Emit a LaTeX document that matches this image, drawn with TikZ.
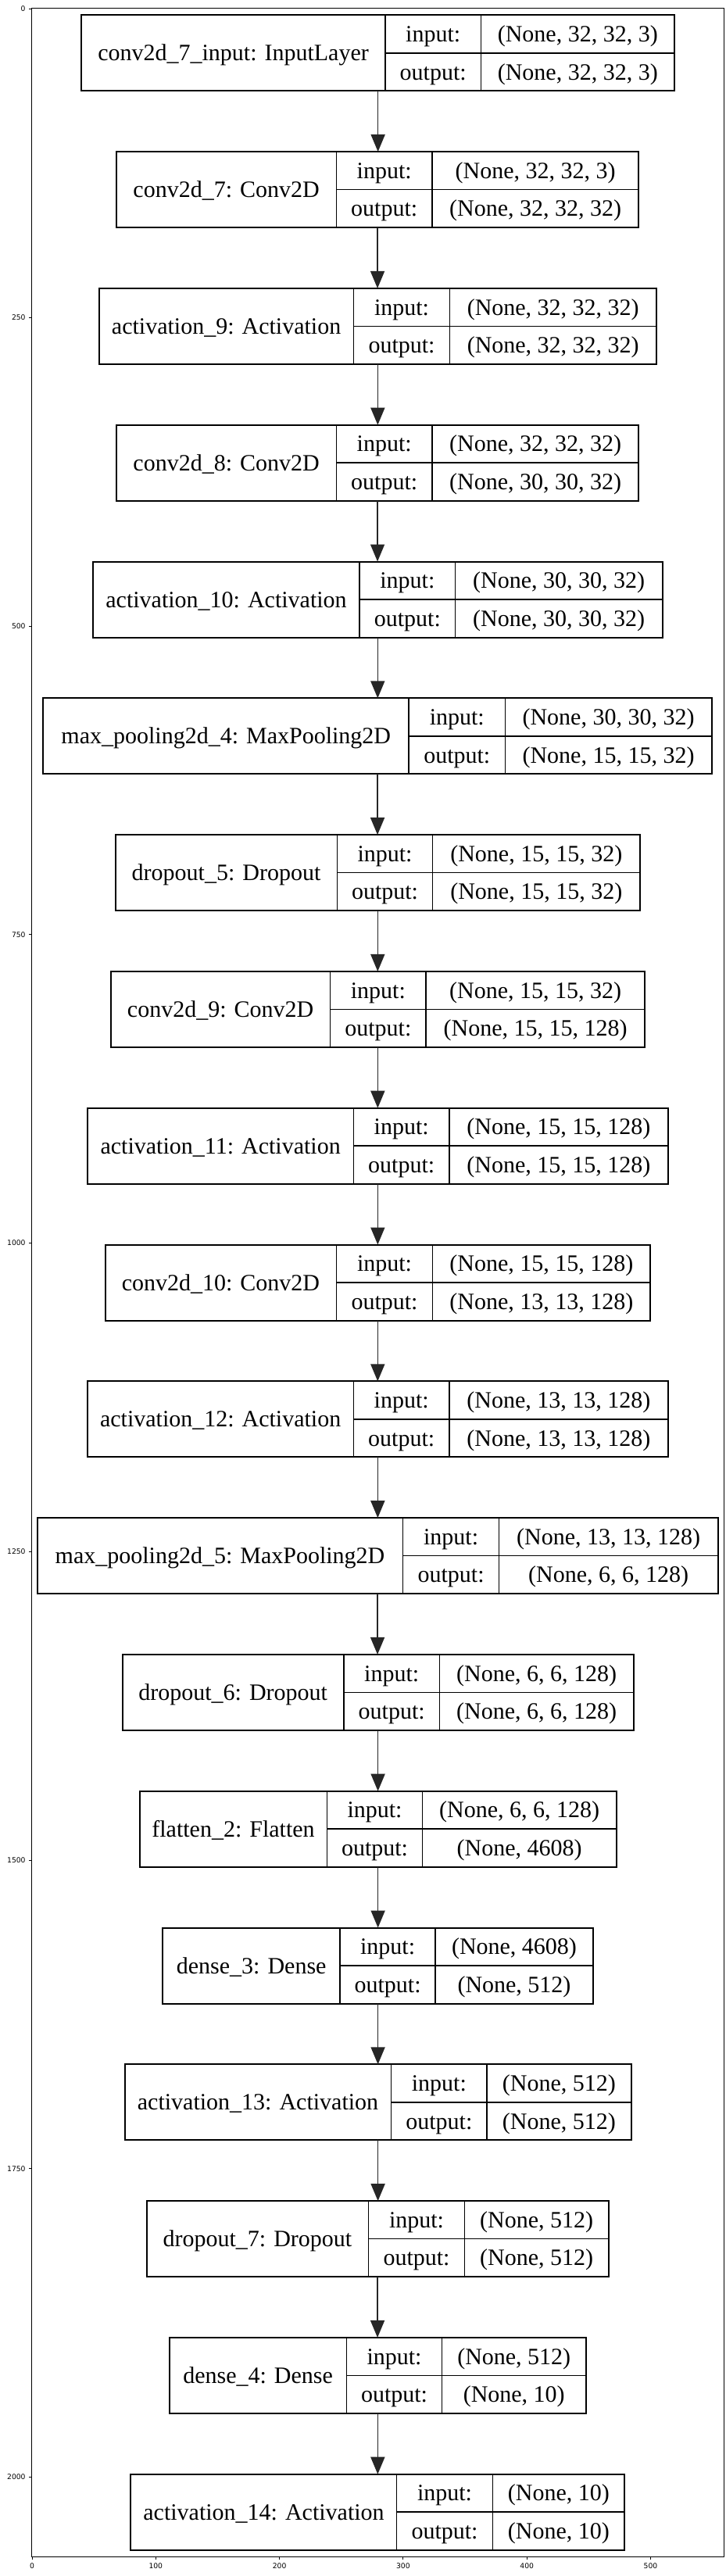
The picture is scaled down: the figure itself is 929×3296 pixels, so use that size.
\documentclass[tikz,border=0pt]{standalone}
\usepackage{fontspec}
\setmainfont{Liberation Serif}
\newfontfamily\tickfont{DejaVu Sans}
\usetikzlibrary{arrows.meta,fit}
\tikzset{
  layerbox/.style={draw=black, line width=1pt, inner sep=0pt, outer sep=0pt},
  divider/.style={draw=black, line width=0.75pt},
  lbl/.style={font=\fontsize{15}{18}\selectfont, inner sep=0pt, text height=10pt, text depth=0pt},
  conn/.style={draw=black!85, line width=0.8pt, -{Triangle[length=11pt,width=9pt]}},
  axisline/.style={draw=black, line width=0.45pt},
  ticklbl/.style={font=\tickfont\fontsize{4.6}{5}\selectfont, inner sep=0pt},
}
% #1 id, #2 index, #3 left, #4 div1, #5 div2, #6 right, #7 name, #8 input, #9 output
\newcommand\kerasLayer[9]{%
  \pgfmathsetmacro\ytop{19.3+174.8*(#2-1)}%
  \pgfmathsetmacro\ybot{\ytop+97}%
  \pgfmathsetmacro\ymid{\ytop+48.5}%
  \pgfmathsetmacro\yin{\ytop+24.25}%
  \pgfmathsetmacro\yout{\ytop+72.75}%
  \node[layerbox, fit={(#3,\ytop) (#6,\ybot)}] (#1) {};
  \draw[divider] (#4,\ytop) -- (#4,\ybot);
  \draw[divider] (#5,\ytop) -- (#5,\ybot);
  \draw[divider] (#4,\ymid) -- (#6,\ymid);
  \node[lbl] (#1-name) at ({(#3+#4)/2},\ymid) {#7};
  \node[lbl] (#1-ilab) at ({(#4+#5)/2},\yin) {input:};
  \node[lbl] (#1-olab) at ({(#4+#5)/2},\yout) {output:};
  \node[lbl] (#1-ival) at ({(#5+#6)/2},\yin) {#8};
  \node[lbl] (#1-oval) at ({(#5+#6)/2},\yout) {#9};
}
\begin{document}
\begin{tikzpicture}[x=0.5pt,y=-0.5pt]
\useasboundingbox (0,0) rectangle (929,3296);
\fill[white] (0,0) rectangle (929,3296);
% axes frame
\draw[axisline] (40.5,10.7) rectangle (926,3271.7);
\foreach \v in {0,250,...,2000}{
  \draw[axisline] (37,{11.5+1.579*\v}) -- (40.5,{11.5+1.579*\v});
  \node[ticklbl, anchor=east] (yt\v) at (33,{11.5+1.579*\v}) {\v};
}
\foreach \v in {0,100,...,500}{
  \draw[axisline] ({41+1.583*\v},3271.7) -- ({41+1.583*\v},3275.2);
  \node[ticklbl, anchor=north] (xt\v) at ({41+1.583*\v},3279) {\v};
}
% layers
\kerasLayer{L1}{1}{104.2}{492.9}{615.5}{863.1}{conv2d\_7\_input: InputLayer}{(None, 32, 32, 3)}{(None, 32, 32, 3)}
\kerasLayer{L2}{2}{148.8}{430.4}{553}{817.3}{conv2d\_7: Conv2D}{(None, 32, 32, 3)}{(None, 32, 32, 32)}
\kerasLayer{L3}{3}{126.8}{452.4}{575.6}{839.9}{activation\_9: Activation}{(None, 32, 32, 32)}{(None, 32, 32, 32)}
\kerasLayer{L4}{4}{148.8}{430.4}{553}{817.3}{conv2d\_8: Conv2D}{(None, 32, 32, 32)}{(None, 30, 30, 32)}
\kerasLayer{L5}{5}{119}{460.1}{582.7}{847.6}{activation\_10: Activation}{(None, 30, 30, 32)}{(None, 30, 30, 32)}
\kerasLayer{L6}{6}{55.4}{523.2}{646.4}{910.7}{max\_pooling2d\_4: MaxPooling2D}{(None, 30, 30, 32)}{(None, 15, 15, 32)}
\kerasLayer{L7}{7}{147.6}{431.5}{553.6}{819}{dropout\_5: Dropout}{(None, 15, 15, 32)}{(None, 15, 15, 32)}
\kerasLayer{L8}{8}{141.7}{422.6}{545.2}{825}{conv2d\_9: Conv2D}{(None, 15, 15, 32)}{(None, 15, 15, 128)}
\kerasLayer{L9}{9}{111.9}{452.4}{575}{854.8}{activation\_11: Activation}{(None, 15, 15, 128)}{(None, 15, 15, 128)}
\kerasLayer{L10}{10}{134.5}{430.4}{553.6}{832.1}{conv2d\_10: Conv2D}{(None, 15, 15, 128)}{(None, 13, 13, 128)}
\kerasLayer{L11}{11}{111.9}{452.4}{575}{854.8}{activation\_12: Activation}{(None, 13, 13, 128)}{(None, 13, 13, 128)}
\kerasLayer{L12}{12}{47.6}{515.5}{638.7}{918.5}{max\_pooling2d\_5: MaxPooling2D}{(None, 13, 13, 128)}{(None, 6, 6, 128)}
\kerasLayer{L13}{13}{156.5}{439.9}{562.5}{810.7}{dropout\_6: Dropout}{(None, 6, 6, 128)}{(None, 6, 6, 128)}
\kerasLayer{L14}{14}{178.6}{418.5}{540.5}{788.7}{flatten\_2: Flatten}{(None, 6, 6, 128)}{(None, 4608)}
\kerasLayer{L15}{15}{208.3}{435.1}{557.1}{758.9}{dense\_3: Dense}{(None, 4608)}{(None, 512)}
\kerasLayer{L16}{16}{159.5}{500.6}{623.2}{807.7}{activation\_13: Activation}{(None, 512)}{(None, 512)}
\kerasLayer{L17}{17}{187.5}{471.4}{594.6}{778.6}{dropout\_7: Dropout}{(None, 512)}{(None, 512)}
\kerasLayer{L18}{18}{216.7}{443.5}{565.5}{750}{dense\_4: Dense}{(None, 512)}{(None, 10)}
\kerasLayer{L19}{19}{167.3}{507.7}{630.4}{799.4}{activation\_14: Activation}{(None, 10)}{(None, 10)}
% connectors
\foreach \a/\b in {L1/L2,L2/L3,L3/L4,L4/L5,L5/L6,L6/L7,L7/L8,L8/L9,L9/L10,L10/L11,L11/L12,L12/L13,L13/L14,L14/L15,L15/L16,L16/L17,L17/L18,L18/L19}{
  \draw[conn] (\a.south) -- (\a.south |- \b.north);
}
\end{tikzpicture}
\end{document}
